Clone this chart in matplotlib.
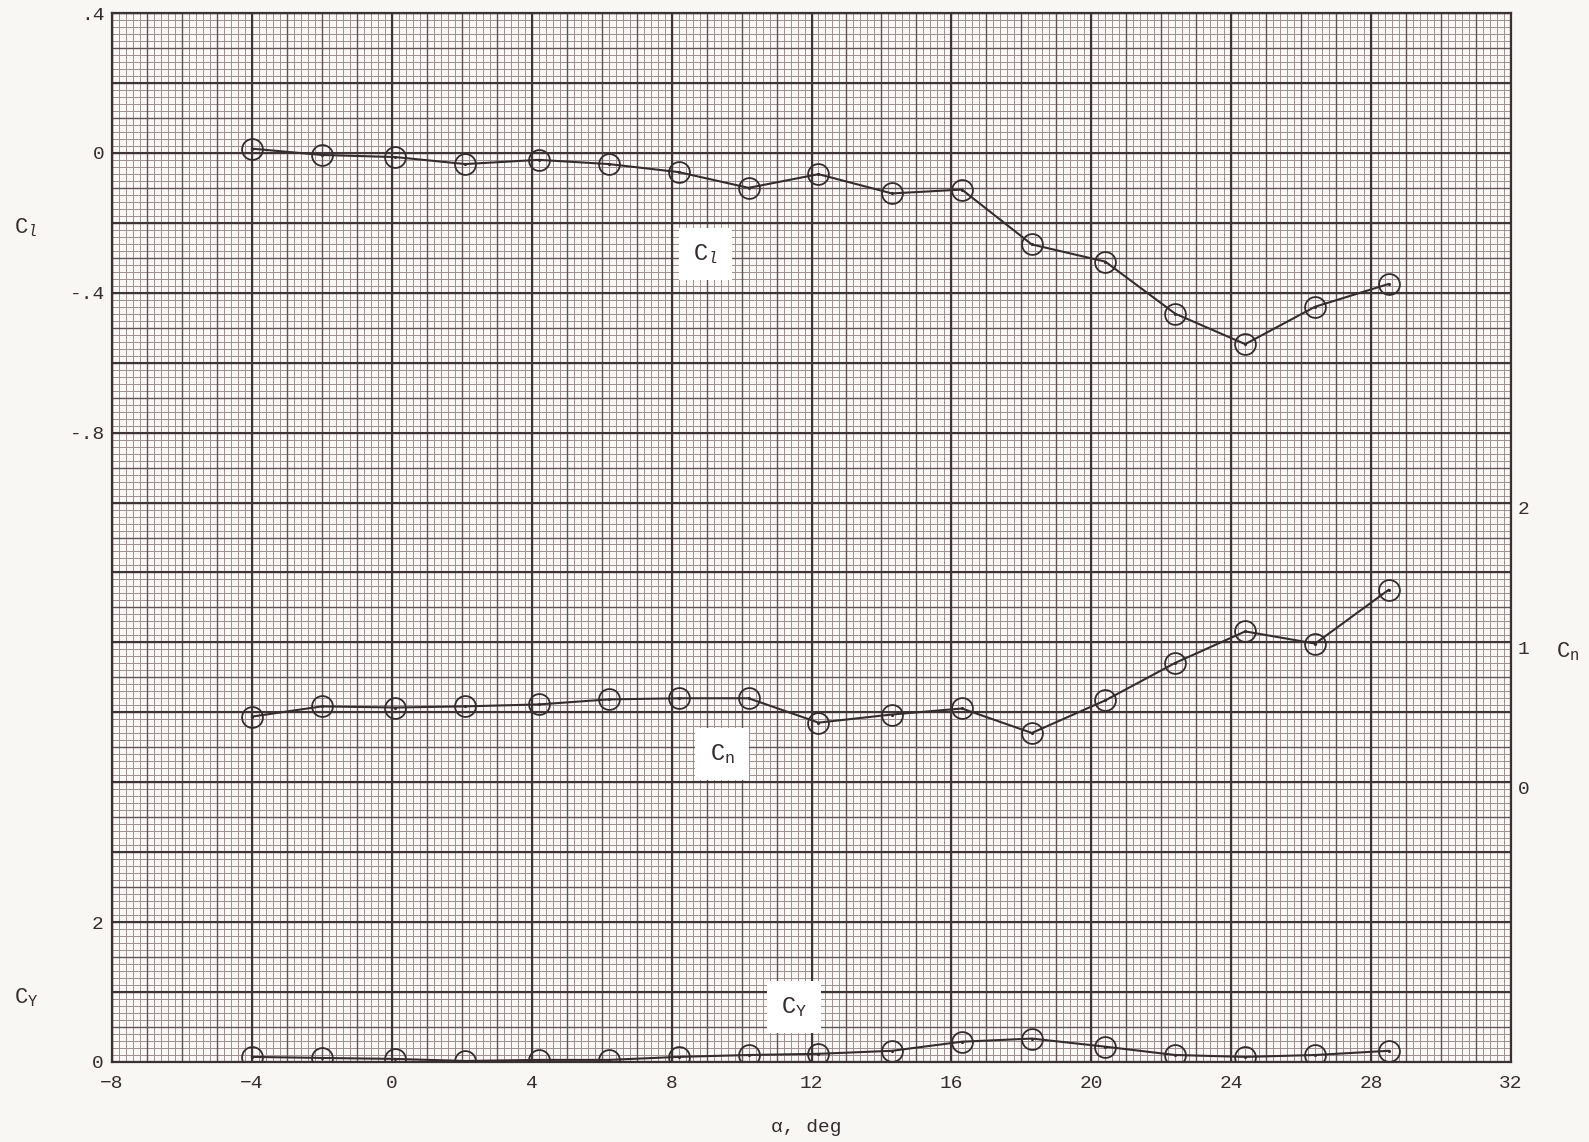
import numpy as np
import matplotlib.pyplot as plt

plt.rcParams['font.family'] = ['Liberation Mono', 'DejaVu Sans Mono']
plt.rcParams['mathtext.fontset'] = 'custom'
plt.rcParams['mathtext.rm'] = 'Liberation Mono'
plt.rcParams['mathtext.it'] = 'Liberation Mono:italic'

# angle of attack, deg
alpha = [-4.0, -2.0, 0.1, 2.1, 4.2, 6.2, 8.2, 10.2, 12.2, 14.3, 16.3,
         18.3, 20.4, 22.4, 24.4, 26.4, 28.5]
# rolling moment
cl = [0.012, -0.006, -0.012, -0.032, -0.020, -0.032, -0.055, -0.100, -0.061,
      -0.116, -0.105, -0.262, -0.311, -0.460, -0.547, -0.440, -0.375]
# yawing moment
cn = [0.507, 0.580, 0.572, 0.580, 0.594, 0.630, 0.638, 0.638, 0.464, 0.522,
      0.565, 0.390, 0.623, 0.891, 1.116, 1.029, 1.413]
# side force
cy = [0.073, 0.058, 0.044, 0.015, 0.030, 0.030, 0.073, 0.100, 0.117, 0.160,
      0.290, 0.335, 0.219, 0.100, 0.073, 0.100, 0.160]

xticks = [-8, -4, 0, 4, 8, 12, 16, 20, 24, 28, 32]
cl_ticks = [0.4, 0.0, -0.4, -0.8]
cl_labels = ['.4', '0', '-.4', '-.8']
cn_ticks = [0, 1, 2]
cy_ticks = [0, 2]

ink = '#352d2d'
paper = '#f8f7f3'

fig = plt.figure(figsize=(15.89, 11.42), dpi=100, facecolor=paper)
ax = fig.add_axes([112/1589, 1-1062/1142, (1511-112)/1589, (1062-13)/1142])
ax.set_facecolor('#fbf8f6')
ax.set_xlim(-8, 32)
ax.set_ylim(-2.6, 0.4)

# graph paper
xf = np.linspace(-8, 32, 201)
yf = np.linspace(-2.6, 0.4, 151)
ax.vlines(xf, -2.6, 0.4, color='#9a9090', lw=0.7, zorder=0)
ax.hlines(yf, -8, 32, color='#9a9090', lw=0.7, zorder=0)
ax.vlines(xf[::5], -2.6, 0.4, color='#5e5454', lw=1.0, zorder=0)
ax.hlines(yf[::5], -8, 32, color='#5e5454', lw=1.0, zorder=0)
ax.vlines(xf[::20], -2.6, 0.4, color='#3e3636', lw=1.5, zorder=0)
ax.hlines(yf[::10], -8, 32, color='#3e3636', lw=1.5, zorder=0)

for s in ax.spines.values():
    s.set_color('#3a3232')
    s.set_linewidth(1.6)

ax.set_xticks(xticks)
ax.set_yticks(cl_ticks)
ax.set_yticklabels(cl_labels)
ax.tick_params(length=0, labelsize=14, colors=ink, pad=5)
ax.tick_params(axis='x', pad=9)

# C_n scale on the right: 0 near Cl -1.8, 1 unit = 0.4 Cl
axn = ax.twinx()
axn.set_ylim((-2.6 + 1.815) / 0.4, (0.4 + 1.815) / 0.4)
axn.set_yticks(cn_ticks)
axn.tick_params(length=0, labelsize=14, colors=ink, pad=5)

# C_Y scale on the left: 0 at the bottom, 2 units = 0.4 Cl
axy = ax.twinx()
axy.set_ylim(0, 15)
axy.yaxis.tick_left()
axy.set_yticks(cy_ticks)
axy.tick_params(length=0, labelsize=14, colors=ink, pad=6)

for a in (axn, axy):
    for s in a.spines.values():
        s.set_visible(False)

mk = dict(color=ink, lw=1.5, marker='o', ms=15, mfc='none', mec=ink, mew=1.3)
dot = dict(ls='none', marker='.', ms=2.5, color=ink)
ax.plot(alpha, cl, **mk)
ax.plot(alpha, cl, **dot)
axn.plot(alpha, cn, **mk)
axn.plot(alpha, cn, **dot)
axy.plot(alpha, cy, **mk)
axy.plot(alpha, cy, **dot)

box = dict(boxstyle='square,pad=0.6', fc='white', ec='none')
ax.text(8.96, -0.29, r'C$_{\mathit{l}}$', fontsize=17, color=ink,
        ha='center', va='center', bbox=box, zorder=5)
axn.text(9.44, 0.24, r'C$_{\mathrm{n}}$', fontsize=17, color=ink,
         ha='center', va='center', bbox=box, zorder=5)
axy.text(11.5, 0.79, r'C$_{\mathrm{Y}}$', fontsize=17, color=ink,
         ha='center', va='center', bbox=box, zorder=5)

# axis titles
fig.text(26/1589, 1-228/1142, r'C$_{\mathit{l}}$', fontsize=16, color=ink,
         ha='center', va='center')
fig.text(26/1589, 1-998/1142, r'C$_{\mathrm{Y}}$', fontsize=16, color=ink,
         ha='center', va='center')
fig.text(1568/1589, 1-652/1142, r'C$_{\mathrm{n}}$', fontsize=16, color=ink,
         ha='center', va='center')
fig.text(806/1589, 1-1128/1142, 'α, deg', fontsize=14, color=ink,
         ha='center', va='center')

fig.savefig('out.png', dpi=100, facecolor=paper)
